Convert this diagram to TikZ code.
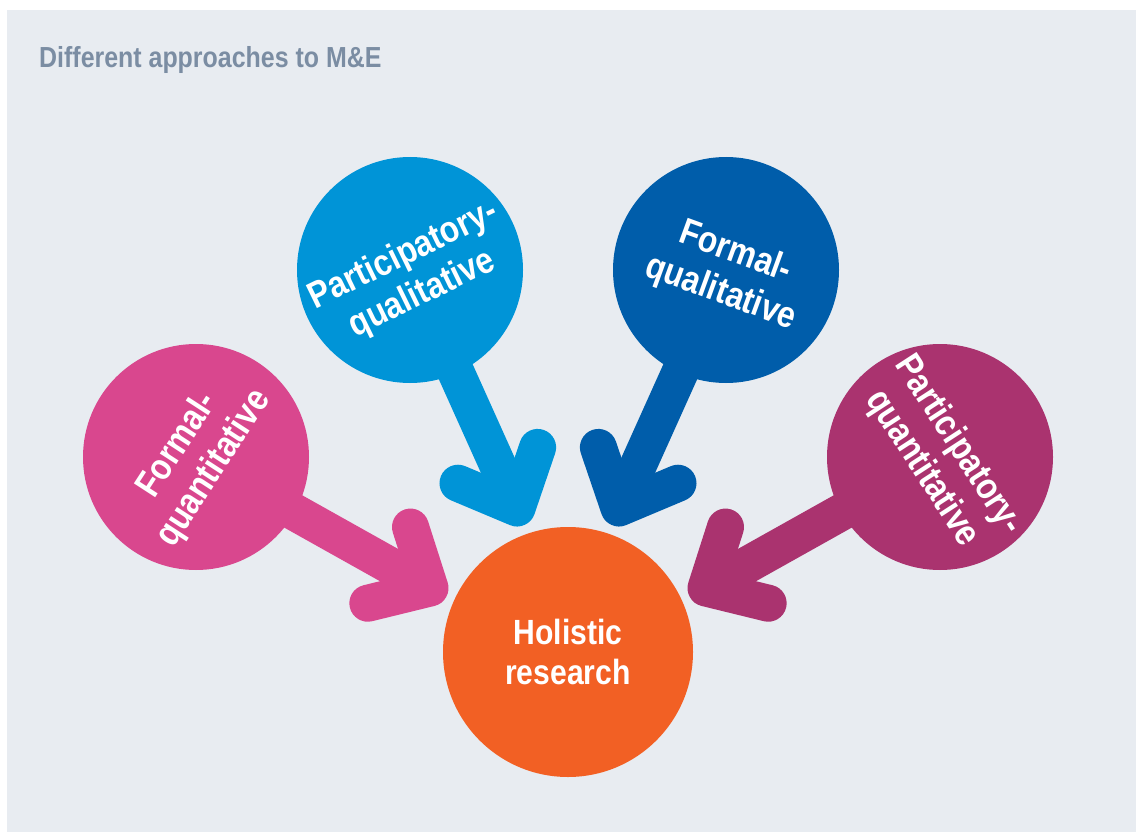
\documentclass[tikz,border=0pt]{standalone}
\usepackage{fontspec}
\setmainfont{Liberation Sans}[FakeStretch=0.86]
\usetikzlibrary{calc,backgrounds}
\definecolor{bgc}{HTML}{E8ECF1}
\definecolor{titlec}{HTML}{7B8DA3}
\definecolor{pinkc}{HTML}{D9478E}
\definecolor{lbluec}{HTML}{0094D7}
\definecolor{dbluec}{HTML}{005DAA}
\definecolor{purplec}{HTML}{AA336F}
\definecolor{orangec}{HTML}{F26024}
\begin{document}
\begin{tikzpicture}[x=1pt,y=-1pt,
  bubble/.style={circle, minimum size=226pt, inner sep=0pt, text=white,
    font=\bfseries\fontsize{37}{43}\selectfont, align=center},
  lab/.style={text=white, font=\bfseries\fontsize{37}{43}\selectfont, align=center, inner sep=0pt},
  shaft/.style={line width=37pt},
  head/.style={line width=37pt, line cap=round, line join=round}]
\useasboundingbox (0,0) rectangle (1143,832);
% circles
\node[bubble, fill=pinkc] (fq) at (196,457) {};
\node[bubble, fill=lbluec] (pq) at (410,270) {};
\node[bubble, fill=dbluec] (fl) at (726,270) {};
\node[bubble, fill=purplec] (pn) at (940,457) {};
\node[bubble, fill=orangec, minimum size=250pt,
  font=\bfseries\fontsize{35}{40}\selectfont] (hr) at (568,652) {Holistic\\research};
% labels
\node[lab, rotate=57] (fqt) at (fq.center) {Formal-\\quantitative};
\node[lab, rotate=26] (pqt) at ($(pq.center)+(3,5)$) {Participatory-\\qualitative};
\node[lab, rotate=-20] (flt) at ($(fl.center)+(2,3)$) {Formal-\\qualitative};
\node[lab, rotate=-57] (pnt) at (pn.center) {Participatory-\\quantitative};
% title
\node[anchor=base west, text=titlec, font=\bfseries\fontsize{29}{33}\selectfont, inner sep=0pt] (title) at (39,68) {Different approaches to M\&E};
% tips
\coordinate (tfq) at (430,588);
\coordinate (tpq) at (517,508);
\coordinate (tfl) at (619,508);
\coordinate (tpn) at (706,588);
\begin{scope}[on background layer]
\fill[bgc] (7,10) rectangle (1136,832);
\foreach \c/\t/\col in {fq/tfq/pinkc, pq/tpq/lbluec, fl/tfl/dbluec, pn/tpn/purplec}{
  \draw[shaft, \col] (\c.center) -- (\t);
  \draw[head, \col] ($(\t)!64pt!43:(\c.center)$) -- (\t) -- ($(\t)!64pt!-43:(\c.center)$);
}
\end{scope}
\end{tikzpicture}
\end{document}
